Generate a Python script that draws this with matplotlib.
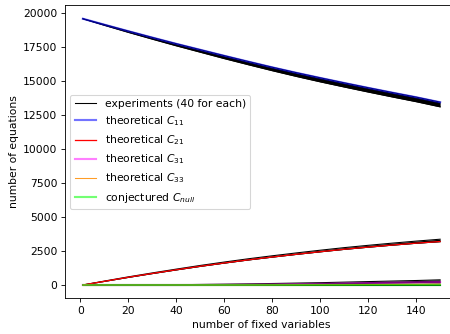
import matplotlib
matplotlib.use("Agg")
import matplotlib.pyplot as plt
import numpy as np

# ---- data ----
x = [1, 10, 20, 30, 40, 50, 60, 70, 80, 90, 100, 110, 120, 130, 140, 150]

c11 = [19600, 19160, 18680, 18210, 17750, 17310, 16870, 16440, 16020, 15620,
       15240, 14870, 14510, 14160, 13820, 13450]
exp_c11_hi = [19600, 19170, 18690, 18220, 17760, 17320, 16880, 16450, 16030, 15630,
              15250, 14880, 14520, 14170, 13830, 13460]
exp_c11_lo = [19590, 19110, 18590, 18090, 17600, 17130, 16660, 16210, 15770, 15350,
              14950, 14570, 14200, 13840, 13490, 13110]

c21 = [0, 270, 570, 850, 1120, 1380, 1620, 1850, 2060, 2260,
       2450, 2630, 2790, 2940, 3080, 3200]
exp_c21_lo = [0, 265, 560, 840, 1110, 1370, 1610, 1840, 2050, 2250,
              2440, 2620, 2780, 2930, 3070, 3190]
exp_c21_hi = [0, 290, 600, 890, 1170, 1440, 1690, 1930, 2150, 2360,
              2560, 2750, 2920, 3080, 3230, 3370]

c31 = [0, 0, 0, 0, 0, 5, 15, 30, 45, 65, 85, 110, 140, 165, 195, 220]
exp_c31_lo = [0, 0, 0, 0, 0, 5, 15, 30, 45, 60, 80, 100, 130, 155, 180, 200]
exp_c31_hi = [0, 0, 0, 10, 20, 40, 60, 85, 110, 140, 170, 210, 250, 290, 330, 380]

c33 = [0, 0, 0, 0, 0, 0, 0, 0, 5, 10, 15, 20, 30, 40, 50, 60]
exp_c33 = [0, 0, 0, 0, 0, 0, 0, 0, 5, 10, 15, 25, 35, 45, 55, 70]

c_null = [0, 0, 0, 0, 0, 0, 0, 0, 0, 0, 0, 0, 0, 0, 0, 0]
exp_null = [0, 0, 0, 0, 0, 0, 0, 0, 0, 0, 0, 0, 0, 0, 0, 0]

W, H, DPI = 451, 334, 77
fig = plt.figure(figsize=(W / DPI, H / DPI), dpi=DPI)
ax = fig.add_axes([65 / W, 1 - 298.3 / H, (458 - 65) / W, (298.3 - 5.4) / H])

# experiments (black)
ax.fill_between(x, exp_c11_lo, exp_c11_hi, color='black', lw=0)
ax.plot(x, exp_c11_lo, color='black', lw=1, label='experiments (40 for each)')
ax.plot(x, exp_c11_hi, color='black', lw=1)
ax.fill_between(x, exp_c21_lo, exp_c21_hi, color='black', lw=0)
ax.plot(x, exp_c21_lo, color='black', lw=1)
ax.plot(x, exp_c21_hi, color='black', lw=1)
ax.fill_between(x, exp_c31_lo, exp_c31_hi, color='black', lw=0)
ax.plot(x, exp_c31_lo, color='black', lw=1)
ax.plot(x, exp_c31_hi, color='black', lw=1)
ax.plot(x, exp_c33, color='black', lw=1)
ax.plot(x, exp_null, color='black', lw=1)

# theoretical
ax.plot(x, c11, color='blue', lw=2, alpha=0.55, label=r'theoretical $C_{11}$')
ax.plot(x, c21, color='red', lw=1.2, label=r'theoretical $C_{21}$')
ax.plot(x, c31, color='magenta', lw=2, alpha=0.5, label=r'theoretical $C_{31}$')
ax.plot(x, c33, color='darkorange', lw=1, alpha=0.85, label=r'theoretical $C_{33}$')
ax.plot(x, c_null, color='lime', lw=2, alpha=0.55, label=r'conjectured $C_{null}$')

ax.set_xlabel('number of fixed variables')
ax.set_ylabel('number of equations')
ax.set_xticks([0, 20, 40, 60, 80, 100, 120, 140])
ax.set_yticks([0, 2500, 5000, 7500, 10000, 12500, 15000, 17500, 20000])
ax.set_xlim(-6.45, 157.45)
ax.set_ylim(-980, 20580)
ax.legend(loc='center left')

fig.savefig('out.png', dpi=DPI)
